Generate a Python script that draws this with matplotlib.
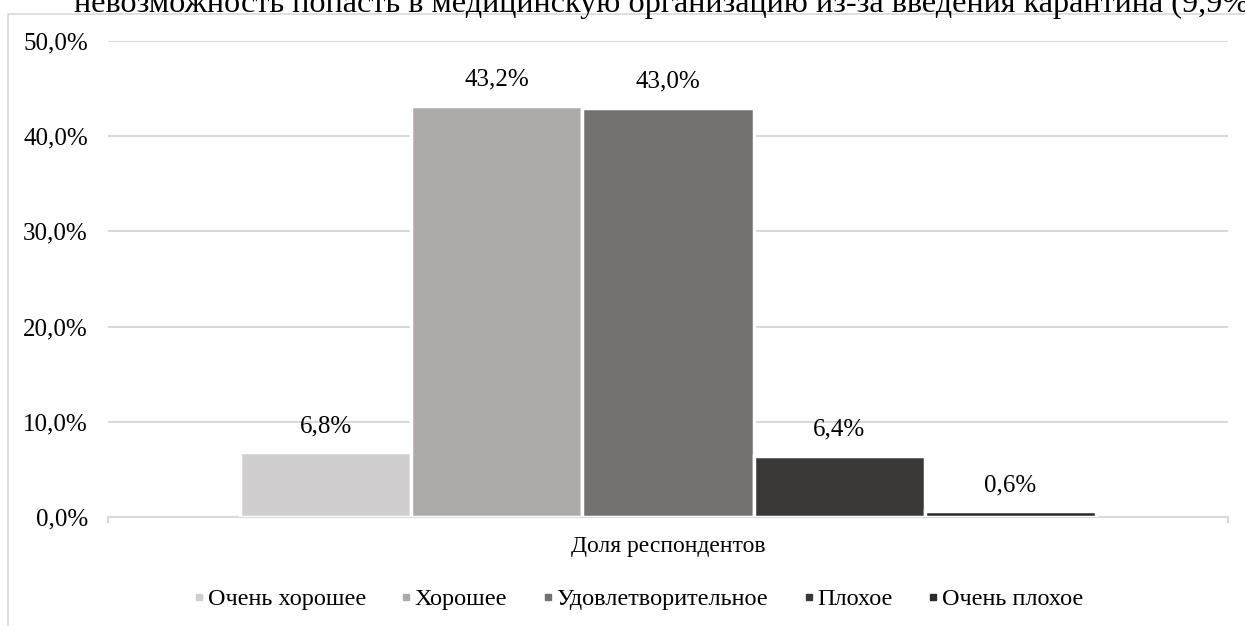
import matplotlib
matplotlib.use("Agg")
import matplotlib.pyplot as plt
from matplotlib.patches import Rectangle
from matplotlib.lines import Line2D

# данные диаграммы
categories = ["Очень хорошее", "Хорошее", "Удовлетворительное", "Плохое", "Очень плохое"]
values = [6.8, 43.2, 43.0, 6.4, 0.6]
colors = ["#d0cece", "#aeaaaa", "#767171", "#3b3838", "#2b2b2b"]
y_ticks = [0, 10, 20, 30, 40, 50]
group_label = "Доля респондентов"
top_text = "невозможность попасть в медицинскую организацию из-за введения карантина (9,9%)"

plt.rcParams['font.family'] = ['Liberation Serif', 'DejaVu Serif']

W, H = 1245, 626
fig = plt.figure(figsize=(W / 100, H / 100), dpi=100)

# рамка области диаграммы (обрезана справа и снизу)
fig.add_artist(Rectangle((8 / W, -0.5), 2, 1.5 - 14 / H,
                         transform=fig.transFigure, fill=False,
                         edgecolor="#d9d9d9", linewidth=1.2, clip_on=False))
fig.text(74 / W, 1 - 12 / H, top_text, fontsize=23.2, va="baseline", ha="left")

ax = fig.add_axes([108 / W, 1 - 517 / H, 1120 / W, 476 / H])

xs = [i - 2 for i in range(len(values))]
half = 3.271
ax.bar(xs, values, width=1.0, color=colors, edgecolor="white", linewidth=2.5, zorder=3)
for x, v in zip(xs, values):
    ax.annotate(f"{v:.1f}%".replace(".", ","), (x, v), xytext=(0, 11),
                textcoords="offset points", ha="center", va="bottom", fontsize=18)

ax.set_xlim(-half, half)
ax.set_ylim(0, 50)
ax.set_yticks(y_ticks)
ax.set_yticklabels([f"{t:.1f}%".replace(".", ",") for t in y_ticks], fontsize=18)
ax.set_xticks([0])
ax.set_xticklabels([group_label], fontsize=17)
ax.set_xticks([-half, half], minor=True)
ax.tick_params(axis="x", which="major", length=0, pad=14)
ax.tick_params(axis="x", which="minor", length=4, color="#d9d9d9", width=1.5)
ax.tick_params(axis="y", length=0, pad=14.5)
ax.grid(axis="y", color="#d9d9d9", linewidth=1.5, zorder=0)
for s in ["top", "right", "left"]:
    ax.spines[s].set_visible(False)
ax.spines["bottom"].set_color("#d9d9d9")
ax.spines["bottom"].set_linewidth(1.5)

handles = [Line2D([], [], marker="s", linestyle="none", markersize=4.5,
                  markerfacecolor=c, markeredgecolor=c) for c in colors]
fig.legend(handles, categories, loc="center", bbox_to_anchor=(638 / W, 1 - 599 / H),
           ncol=5, frameon=False, fontsize=17.5, handletextpad=0.1, columnspacing=1.42,
           handlelength=0.5)

fig.savefig("out.png", dpi=100)
